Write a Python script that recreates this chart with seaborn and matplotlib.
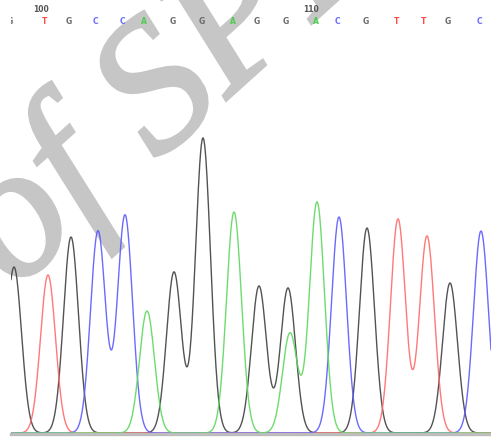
import numpy as np
import pandas as pd
import matplotlib
matplotlib.use("Agg")
import matplotlib.pyplot as plt
import matplotlib.patheffects as pe
import seaborn as sns

# ---- data ----
base_calls = ["G", "T", "G", "C", "C", "A", "G", "G", "A", "G", "G", "A", "C", "G", "T", "T", "G", "C"]
base_pos = [10, 45, 69, 95, 122, 144, 173, 202, 233, 257, 286, 316, 337, 366, 397, 424, 448, 479]
base_numbers = [100, 110]
base_number_pos = [41, 311]

peak_channel = ["G", "T", "G", "C", "C", "A", "G", "G", "A", "G", "G", "A", "A", "C", "G", "T", "T", "G", "C"]
peak_pos = [14, 48, 71, 98, 125, 147, 174, 203, 234, 259, 288, 290, 317, 339, 367, 398, 427, 450, 481]
peak_height = [166, 158, 196, 202, 218, 122, 161, 295, 221, 147, 145, 100, 231, 216, 205, 214, 197, 150, 202]
peak_sigma = 7.5

trace_colors = {"G": "#404040", "T": "#ff6a6a", "C": "#5a5aff", "A": "#5ed85e"}
call_colors = {"G": "#6a6a6a", "T": "#ff4a4a", "C": "#6a6aff", "A": "#4ccc4c"}

# ---- build traces ----
x = np.linspace(11, 491, 1441)
rows = []
for ch in ["G", "T", "C", "A"]:
    y = np.zeros_like(x)
    for c, p, h in zip(peak_channel, peak_pos, peak_height):
        if c == ch:
            y += h * np.exp(-(x - p) ** 2 / (2 * peak_sigma ** 2))
    rows.append(pd.DataFrame({"scan": x, "signal": y, "channel": ch}))
df = pd.concat(rows, ignore_index=True)

sns.set_style("white")
fig = plt.figure(figsize=(4.91, 4.37), dpi=100)
ax = fig.add_axes([11 / 491, 0, 480 / 491, 1])

# watermark
wm_color = "#c6c6c6"
ax.text(14, 433 - 291, "of SPIE", fontsize=135, family="Liberation Serif", style="italic",
        color=wm_color, rotation=42, rotation_mode="anchor", ha="left", va="baseline",
        zorder=0, clip_on=False,
        path_effects=[pe.withStroke(linewidth=2.5, foreground=wm_color, joinstyle="miter")])

sns.lineplot(data=df, x="scan", y="signal", hue="channel", palette=trace_colors,
             estimator=None, sort=False, linewidth=1.0, alpha=0.9, legend=False, ax=ax, zorder=3)

ax.set_xlim(11, 491)
ax.set_ylim(-4, 433)
ax.set_xticks([])
ax.set_yticks([])
ax.set_xlabel("")
ax.set_ylabel("")
for s in ["top", "left", "right"]:
    ax.spines[s].set_visible(False)
ax.spines["bottom"].set_position(("data", -0.5))
ax.spines["bottom"].set_color("#bdbdbd")
ax.spines["bottom"].set_linewidth(2.4)
ax.spines["bottom"].set_zorder(5)

for b, p in zip(base_calls, base_pos):
    ax.text(p, 433 - 22, b, color=call_colors[b], fontsize=5.5, fontweight="bold",
            ha="center", va="center", clip_on=True, zorder=4)
for n, p in zip(base_numbers, base_number_pos):
    ax.text(p, 433 - 10, str(n), color="#555555", fontsize=5.5, fontweight="bold",
            ha="center", va="center", clip_on=True, zorder=4)

fig.savefig("out.png", dpi=100)
